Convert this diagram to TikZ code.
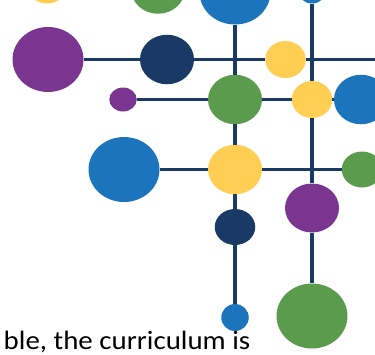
\documentclass[tikz,border=0pt]{standalone}
\usepackage{fontspec}
\setmainfont{Carlito}
\usepackage{tikz}
\usetikzlibrary{shapes.geometric}
\definecolor{dpurple}{HTML}{7A3590}
\definecolor{dnavy}{HTML}{183A65}
\definecolor{dgreen}{HTML}{5A9B4E}
\definecolor{dblue}{HTML}{1C75BC}
\definecolor{dyellow}{HTML}{FFCE52}

\begin{document}
\begin{tikzpicture}[x=1pt,y=-1pt,
  dot/.style={ellipse,inner sep=0pt,draw=none},
  big/.style={dot,minimum width=71pt,minimum height=65pt},
  mid/.style={dot,minimum width=54pt,minimum height=49.5pt},
  sml/.style={dot,minimum width=40.5pt,minimum height=37pt},
  tny/.style={dot,minimum width=27.5pt,minimum height=25pt},
  wire/.style={dnavy,line width=3.5pt}]
\useasboundingbox (0,0) rectangle (375,354);
%-------->nodes, top edge<--------------
\node (ytop) [sml,fill=dyellow] at (47,-15) {};
\node (gtop) [mid,fill=dgreen] at (158,-11) {};
\node (btop) [big,fill=dblue] at (235,-8) {};
\node (bcorner) [tny,fill=dblue] at (312,-9) {};
%-------->nodes, first row<--------------
\node (pbig) [big,fill=dpurple] at (48,59.5) {};
\node (nrow) [mid,fill=dnavy] at (167,59.5) {};
\node (yrow) [sml,fill=dyellow] at (285.5,59.5) {};
%-------->nodes, second row<--------------
\node (psml) [tny,fill=dpurple,minimum height=24pt] at (123,99.5) {};
\node (gmid) [mid,fill=dgreen] at (235,99.5) {};
\node (ymid) [sml,fill=dyellow] at (312,99.5) {};
\node (bright) [mid,fill=dblue] at (361,99.5) {};
%-------->nodes, third row<--------------
\node (bbig) [big,fill=dblue] at (124,169.5) {};
\node (ylow) [mid,fill=dyellow] at (235,169.5) {};
\node (gright) [sml,fill=dgreen,minimum height=36pt] at (362,169.5) {};
%-------->nodes, columns<--------------
\node (nlow) [sml,fill=dnavy,minimum height=36pt] at (235,227) {};
\node (bend) [tny,fill=dblue,minimum height=27pt] at (235,317.5) {};
\node (plow) [mid,fill=dpurple,minimum height=49pt] at (312,208) {};
\node (gbig) [big,fill=dgreen] at (312,316) {};
%-------->free ends<--------------
\coordinate (eone) at (375,59.5);
%------------->rows<------------------
\draw [wire] (pbig) -- (nrow) -- (yrow) -- (eone);
\draw [wire] (psml) -- (gmid) -- (ymid) -- (bright);
\draw [wire] (bbig) -- (ylow) -- (gright);
%------------->columns<------------------
\draw [wire] (btop) -- (gmid) -- (ylow) -- (nlow) -- (bend);
\draw [wire] (bcorner) -- (ymid) -- (plow) -- (gbig);
%------------->text<------------------
\node (txt) [anchor=base east,inner sep=0pt,xscale=1.09,font=\fontsize{26.5}{32}\selectfont] at (250.5,349.3) {ble, the curriculum is};
\end{tikzpicture}
\end{document}
